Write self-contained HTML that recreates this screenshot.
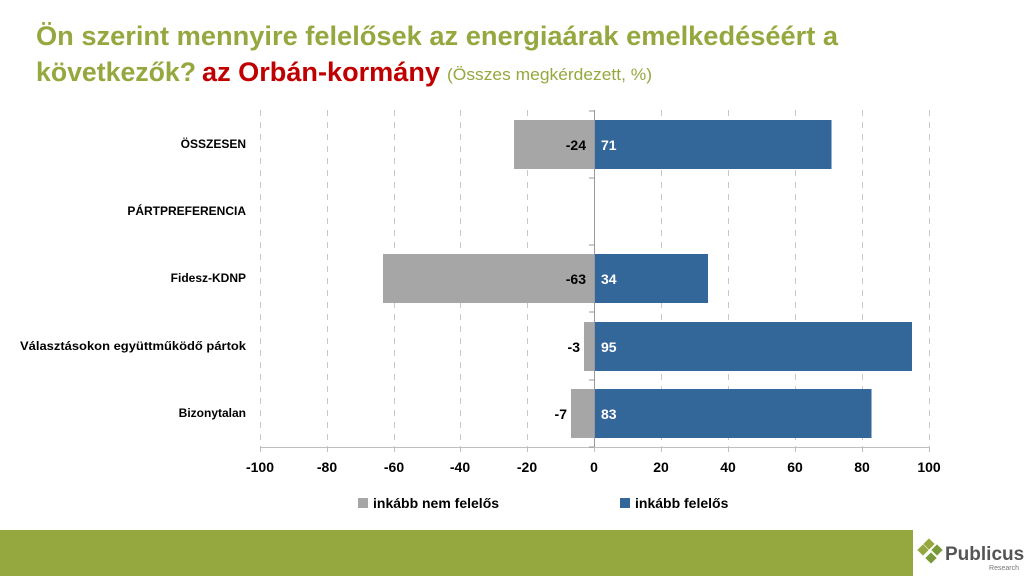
<!DOCTYPE html>
<html><head><meta charset="utf-8"><style>
body{margin:0;width:1024px;height:576px;overflow:hidden;background:#fff}
svg{display:block}
</style></head><body>
<svg width="1024" height="576" viewBox="0 0 1024 576" font-family="Liberation Sans, sans-serif">
<text x="36" y="45" font-size="27" font-weight="bold" fill="#95a83f" textLength="802" lengthAdjust="spacingAndGlyphs">Ön szerint mennyire felelősek az energiaárak emelkedéséért a</text>
<text x="36" y="81" font-size="27" font-weight="bold" fill="#95a83f" textLength="160" lengthAdjust="spacingAndGlyphs">következők?</text>
<text x="202" y="81" font-size="27" font-weight="bold" fill="#c00000" textLength="238" lengthAdjust="spacingAndGlyphs">az Orbán-kormány</text>
<text x="447" y="80" font-size="17" fill="#95a83f" textLength="205" lengthAdjust="spacingAndGlyphs">(Összes megkérdezett, %)</text>
<g stroke="#c8c8c8" stroke-width="1" stroke-dasharray="6,6">
<line x1="260.5" y1="110" x2="260.5" y2="447"/><line x1="327.5" y1="110" x2="327.5" y2="447"/><line x1="394.5" y1="110" x2="394.5" y2="447"/><line x1="460.5" y1="110" x2="460.5" y2="447"/><line x1="527.5" y1="110" x2="527.5" y2="447"/><line x1="661.5" y1="110" x2="661.5" y2="447"/><line x1="728.5" y1="110" x2="728.5" y2="447"/><line x1="795.5" y1="110" x2="795.5" y2="447"/><line x1="862.5" y1="110" x2="862.5" y2="447"/><line x1="929.5" y1="110" x2="929.5" y2="447"/>
</g>
<line x1="260" y1="447.5" x2="929" y2="447.5" stroke="#bfbfbf"/>
<g stroke="#bfbfbf">
<line x1="260.5" y1="447" x2="260.5" y2="452"/><line x1="327.5" y1="447" x2="327.5" y2="452"/><line x1="394.5" y1="447" x2="394.5" y2="452"/><line x1="460.5" y1="447" x2="460.5" y2="452"/><line x1="527.5" y1="447" x2="527.5" y2="452"/><line x1="594.5" y1="447" x2="594.5" y2="452"/><line x1="661.5" y1="447" x2="661.5" y2="452"/><line x1="728.5" y1="447" x2="728.5" y2="452"/><line x1="795.5" y1="447" x2="795.5" y2="452"/><line x1="862.5" y1="447" x2="862.5" y2="452"/><line x1="929.5" y1="447" x2="929.5" y2="452"/>
</g>
<g fill="#a6a6a6">
<rect x="514" y="120" width="80" height="49"/><rect x="383" y="254" width="211" height="49"/><rect x="584" y="322" width="10" height="49"/><rect x="571" y="389" width="23" height="49"/>
</g>
<g fill="#336699">
<rect x="594" y="120" width="237.5" height="49"/><rect x="594" y="254" width="114" height="49"/><rect x="594" y="322" width="318" height="49"/><rect x="594" y="389" width="277.5" height="49"/>
</g>
<g stroke="#999"><line x1="594.5" y1="110" x2="594.5" y2="447"/>
<line x1="589" y1="111" x2="594" y2="111"/><line x1="589" y1="178" x2="594" y2="178"/><line x1="589" y1="245" x2="594" y2="245"/><line x1="589" y1="312" x2="594" y2="312"/><line x1="589" y1="380" x2="594" y2="380"/><line x1="589" y1="447" x2="594" y2="447"/></g>
<g font-size="14" font-weight="bold" fill="#000" text-anchor="end">
<text x="586" y="150">-24</text><text x="586" y="284">-63</text><text x="580" y="352">-3</text><text x="567" y="419">-7</text>
</g>
<g font-size="14" font-weight="bold" fill="#fff">
<text x="601" y="150">71</text><text x="601" y="284">34</text><text x="601" y="352">95</text><text x="601" y="419">83</text>
</g>
<g font-size="12" font-weight="bold" fill="#000" text-anchor="end">
<text x="246" y="148">ÖSSZESEN</text><text x="246" y="215">PÁRTPREFERENCIA</text><text x="246" y="282">Fidesz-KDNP</text><text x="246" y="350" textLength="226" lengthAdjust="spacingAndGlyphs">Választásokon együttműködő pártok</text><text x="246" y="417">Bizonytalan</text>
</g>
<g font-size="14" font-weight="bold" fill="#000" text-anchor="middle">
<text x="260" y="472">-100</text><text x="327" y="472">-80</text><text x="394" y="472">-60</text><text x="460" y="472">-40</text><text x="527" y="472">-20</text><text x="594" y="472">0</text><text x="661" y="472">20</text><text x="728" y="472">40</text><text x="795" y="472">60</text><text x="862" y="472">80</text><text x="929" y="472">100</text>
</g>
<rect x="358" y="498" width="10" height="10" fill="#a6a6a6"/>
<text x="373" y="508" font-size="14" font-weight="bold">inkább nem felelős</text>
<rect x="620" y="498" width="10" height="10" fill="#336699"/>
<text x="635" y="508" font-size="14" font-weight="bold">inkább felelős</text>
<rect x="0" y="530" width="913" height="46" fill="#95a83f"/>
<g fill="#7a9a3a" transform="translate(930,553)">
<rect x="-5" y="-13" width="8" height="8" transform="rotate(45 -1 -9)" fill="#95a83f"/>
<rect x="3" y="-7" width="8" height="8" transform="rotate(45 7 -3)"/>
<rect x="-11" y="-7" width="8" height="8" transform="rotate(45 -7 -3)" fill="#95a83f"/>
<rect x="-3" y="1" width="8" height="8" transform="rotate(45 1 5)"/>
</g>
<text x="945" y="560" font-size="19" font-weight="bold" fill="#555">Publicus</text>
<text x="1019" y="570" font-size="7" fill="#777" text-anchor="end">Research</text>
</svg>
</body></html>
